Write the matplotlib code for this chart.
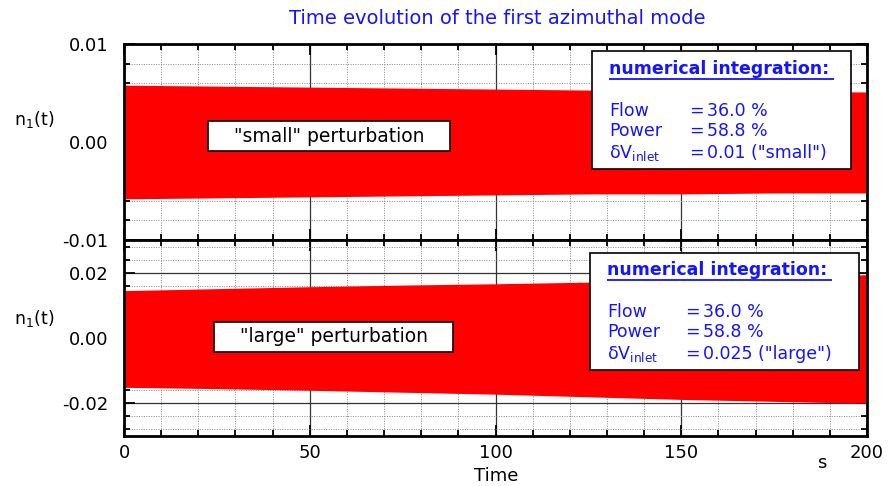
import matplotlib
matplotlib.use("Agg")
import matplotlib.pyplot as plt
from matplotlib.ticker import MultipleLocator, FixedLocator, FormatStrFormatter
from matplotlib.patches import Rectangle

plt.rcParams['font.family'] = ['DejaVu Sans']
plt.rcParams['axes.unicode_minus'] = False

# ---- data (envelope of the fast oscillation) ----
t_env = [0, 25, 50, 75, 100, 125, 150, 175, 200]
small_upper = [0.0058, 0.0057, 0.0056, 0.0055, 0.0054, 0.0053, 0.0053, 0.0052, 0.0051]
small_lower = [-0.0058, -0.0057, -0.0056, -0.0055, -0.0054, -0.0053, -0.0053, -0.0052, -0.0052]
large_upper = [0.0145, 0.0151, 0.0157, 0.0162, 0.0166, 0.0171, 0.0175, 0.0182, 0.0194]
large_lower = [-0.0151, -0.0155, -0.0160, -0.0166, -0.0172, -0.0180, -0.0188, -0.0194, -0.0200]

x_ticks = [0, 50, 100, 150, 200]
top_yticks = [-0.01, 0.00, 0.01]
bot_yticks = [-0.02, 0.00, 0.02]

title = "Time evolution of the first azimuthal mode"
header = "numerical integration:"
labels_col = ["Flow", "Power", r"δV$_{\mathregular{inlet}}$"]
eq_col = ["=", "=", "="]
small_vals = ["36.0 %", "58.8 %", '0.01 ("small")']
large_vals = ["36.0 %", "58.8 %", '0.025 ("large")']

BLUE = "#1414ff"

fig = plt.figure(figsize=(8.88, 4.86), dpi=100)
L, R = 124 / 888, 867 / 888
ax1 = fig.add_axes([L, 1 - 240 / 486, R - L, 196 / 486])
ax2 = fig.add_axes([L, 1 - 436 / 486, R - L, 196 / 486], sharex=ax1)


def style(ax, yticks, yminor, ylim):
    ax.set_xlim(0, 200)
    ax.set_ylim(*ylim)
    ax.xaxis.set_major_locator(FixedLocator(x_ticks))
    ax.xaxis.set_minor_locator(MultipleLocator(10))
    ax.yaxis.set_major_locator(FixedLocator(yticks))
    ax.yaxis.set_minor_locator(MultipleLocator(yminor))
    ax.yaxis.set_major_formatter(FormatStrFormatter('%.2f'))
    ax.grid(which='major', color='#333333', linestyle='-', linewidth=0.9, zorder=0)
    ax.grid(which='minor', color='#888888', linestyle=(0, (1, 1.5)), linewidth=0.7, zorder=0)
    ax.set_axisbelow(True)
    ax.tick_params(which='both', direction='in', top=True, right=True,
                   width=1.3, labelsize=13, colors='black')
    ax.tick_params(which='major', length=8)
    ax.tick_params(which='minor', length=4.5)
    ax.tick_params(axis='y', which='major', pad=11)
    ax.tick_params(axis='x', which='major', pad=6)
    for s in ax.spines.values():
        s.set_linewidth(2.0)
        s.set_zorder(5)


style(ax1, top_yticks, 0.002, (-0.01, 0.01))
style(ax2, bot_yticks, 0.004, (-0.03, 0.03))
ax1.tick_params(labelbottom=False)

ax1.fill_between(t_env, small_lower, small_upper, color='#ff0000', linewidth=0, zorder=2)
ax2.fill_between(t_env, large_lower, large_upper, color='#ff0000', linewidth=0, zorder=2)


def pert_box(ax, x0, y0, x1, y1, text):
    ax.add_patch(Rectangle((x0, y0), x1 - x0, y1 - y0, transform=ax.transAxes,
                           facecolor='white', edgecolor='black', linewidth=1.2, zorder=6))
    ax.text((x0 + x1) / 2, (y0 + y1) / 2, text, transform=ax.transAxes, ha='center',
            va='center', fontsize=13.5, color='black', zorder=7)


def info_box(ax, box, hx, hy, uy, ux1, rows_y, eqx, valx, vals):
    x0, y0, x1, y1 = box
    ax.add_patch(Rectangle((x0, y0), x1 - x0, y1 - y0, transform=ax.transAxes,
                           facecolor='white', edgecolor='black', linewidth=1.2, zorder=6))
    ax.text(hx, hy, header, transform=ax.transAxes, ha='left', va='center',
            fontsize=12.5, fontweight='bold', color=BLUE, zorder=7)
    ax.plot([hx, ux1], [uy, uy], transform=ax.transAxes, color=BLUE, linewidth=1.3,
            zorder=7, solid_capstyle='butt')
    for lab, eq, val, y in zip(labels_col, eq_col, vals, rows_y):
        ax.text(hx, y, lab, transform=ax.transAxes, ha='left', va='center',
                fontsize=12.5, color=BLUE, zorder=7)
        ax.text(eqx, y, eq, transform=ax.transAxes, ha='left', va='center',
                fontsize=12.5, color=BLUE, zorder=7)
        ax.text(valx, y, val, transform=ax.transAxes, ha='left', va='center',
                fontsize=12.5, color=BLUE, zorder=7)


pert_box(ax1, 0.113, 0.454, 0.439, 0.607, '"small" perturbation')
pert_box(ax2, 0.121, 0.429, 0.443, 0.582, '"large" perturbation')

info_box(ax1, (0.630, 0.362, 0.978, 0.964), 0.653, 0.870, 0.822, 0.955,
         [0.658, 0.556, 0.444], 0.760, 0.785, small_vals)
info_box(ax2, (0.627, 0.337, 0.989, 0.934), 0.650, 0.845, 0.797, 0.953,
         [0.633, 0.531, 0.418], 0.755, 0.779, large_vals)

fig.text(497 / 888, 1 - 18 / 486, title, ha='center', va='center', fontsize=14, color=BLUE)
for yp in (119, 318):
    fig.text(34 / 888, 1 - yp / 486, r"n$_{\mathregular{1}}$(t)", ha='center', va='center',
             fontsize=12.5, color='black')
fig.text(496 / 888, 1 - 476 / 486, "Time", ha='center', va='center', fontsize=13)
fig.text(822 / 888, 1 - 463 / 486, "s", ha='center', va='center', fontsize=13)

fig.savefig("out.png", dpi=100)
